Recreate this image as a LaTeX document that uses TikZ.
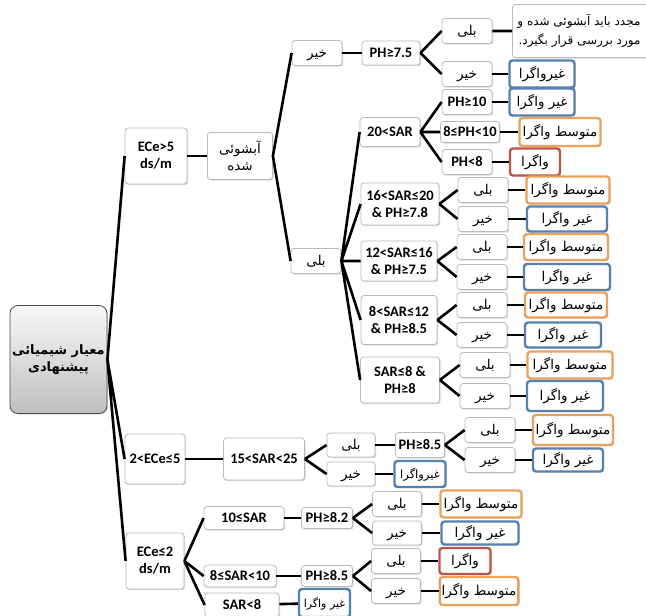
\documentclass[tikz,border=0pt]{standalone}
\usepackage{fontspec}
\setmainfont{Carlito}
\newfontfamily\arabicfont[Script=Arabic]{DejaVu Sans}
\TeXXeTstate=1
\newcommand{\fa}[1]{{\arabicfont\mdseries\fontsize{13.5}{18}\selectfont\beginR #1\endR}}
\newcommand{\fab}[1]{{\arabicfont\bfseries\fontsize{13}{22}\selectfont\beginR #1\endR}}
\usetikzlibrary{shadows}
\definecolor{nonc}{HTML}{5680AE}
\definecolor{medc}{HTML}{E9A15D}
\definecolor{sodc}{HTML}{BD5449}

\begin{document}
\begin{tikzpicture}[x=1pt,y=-1pt,
  box/.style={draw=gray!55,fill=white,rounded corners=3pt,line width=0.8pt,inner sep=2pt,align=center,
    font=\bfseries\fontsize{14.5}{17}\selectfont,
    drop shadow={shadow xshift=1.2pt,shadow yshift=-1.2pt,opacity=0.3}},
  fatxt/.style={text height=9pt,text depth=1pt},
  yn/.style={box,fatxt,minimum width=50,minimum height=25},
  nonbox/.style={box,fatxt,draw=nonc,line width=2.4pt},
  medbox/.style={box,fatxt,draw=medc,line width=2.4pt},
  sodbox/.style={box,fatxt,draw=sodc,line width=2.4pt},
  rootbox/.style={box,rounded corners=8pt,draw=gray!60!black,top color=gray!6,bottom color=gray!50,
    minimum width=97,minimum height=108},
  link/.style={line width=2.6pt}]
\useasboundingbox (0,0) rectangle (646,616);
\clip (0,0) rectangle (646,616);

\node at (58.5,359.5) [rootbox] (root) {\fab{معیار شیمیائی}\\\fab{پیشنهادی}};

\node at (156,156) [box,minimum width=62,minimum height=56] (ece5) {ECe>5\\ds/m};
\node at (240,156) [box,minimum width=65,minimum height=47] (wash) {\fa{آبشوئی}\\\fa{شده}};
\node at (317,53) [yn] (washno) {\fa{خیر}};
\node at (316,261) [yn] (washyes) {\fa{بلی}};
\node at (391,53) [box,minimum width=58,minimum height=24] (ph75) {PH≥7.5};
\node at (467,31) [yn] (ph75yes) {\fa{بلی}};
\node at (512,4) [box,anchor=north west,minimum width=148,minimum height=53] (again) {};
\node at (644,31) [anchor=east,align=right,font=\fontsize{12}{19}\selectfont] (againtxt)
  {{\arabicfont\beginR مجدد باید آبشوئی شده و\endR}\\{\arabicfont\beginR مورد بررسی قرار بگیرد.\endR}};
\node at (467,74) [yn] (ph75no) {\fa{خیر}};
\node at (542,74) [nonbox,minimum width=65,minimum height=27] (gv1) {\fa{غیرواگرا}};

\node at (390,132) [box,minimum width=60,minimum height=29] (sar20) {20<SAR};
\node at (467,102) [box,minimum width=50,minimum height=25] (ph10) {PH≥10};
\node at (542,102) [nonbox,minimum width=65,minimum height=27] (gv2) {\fa{غیر واگرا}};
\node at (470,132) [box,minimum width=59,minimum height=21] (ph810) {8≤PH<10};
\node at (560,132) [medbox,minimum width=81,minimum height=28] (mv1) {\fa{متوسط واگرا}};
\node at (467,162) [box,minimum width=50,minimum height=25] (ph8) {PH<8};
\node at (535,162) [sodbox,minimum width=50,minimum height=27] (v1) {\fa{واگرا}};

\node at (400,204) [box,minimum width=78,minimum height=42] (sar16) {16<SAR≤20\\\& PH≥7.8};
\node at (483,190) [yn] (y16) {\fa{بلی}};
\node at (568,190) [medbox,minimum width=83,minimum height=27] (mv16) {\fa{متوسط واگرا}};
\node at (483,219) [yn] (n16) {\fa{خیر}};
\node at (567,219) [nonbox,minimum width=80,minimum height=25] (gv16) {\fa{غیر واگرا}};

\node at (399,261) [box,minimum width=76,minimum height=40] (sar12) {12<SAR≤16\\\& PH≥7.5};
\node at (482,247) [yn] (y12) {\fa{بلی}};
\node at (566,247) [medbox,minimum width=84,minimum height=26] (mv12) {\fa{متوسط واگرا}};
\node at (482,277) [yn] (n12) {\fa{خیر}};
\node at (567,277) [nonbox,minimum width=86,minimum height=26] (gv12) {\fa{غیر واگرا}};

\node at (399,320) [box,minimum width=76,minimum height=49] (sar8) {8<SAR≤12\\\& PH≥8.5};
\node at (482,305) [yn] (y8) {\fa{بلی}};
\node at (566,305) [medbox,minimum width=82,minimum height=25] (mv8) {\fa{متوسط واگرا}};
\node at (482,335) [yn] (n8) {\fa{خیر}};
\node at (563,335) [nonbox,minimum width=76,minimum height=25] (gv8) {\fa{غیر واگرا}};

\node at (400,380) [box,minimum width=79,minimum height=46] (sarle8) {SAR≤8 \&\\PH≥8};
\node at (485,365) [yn] (yl8) {\fa{بلی}};
\node at (570,365) [medbox,minimum width=85,minimum height=27] (mvl8) {\fa{متوسط واگرا}};
\node at (485,396) [yn] (nl8) {\fa{خیر}};
\node at (565,396) [nonbox,minimum width=76,minimum height=30] (gvl8) {\fa{غیر واگرا}};

\node at (155,459) [box,minimum width=60,minimum height=50] (ece25) {2<ECe≤5};
\node at (264,459) [box,minimum width=81,minimum height=42] (sar15) {15<SAR<25};
\node at (351,445) [yn,minimum width=48,minimum height=24] (y15) {\fa{بلی}};
\node at (351,474) [yn,minimum width=48,minimum height=24] (n15) {\fa{خیر}};
\node at (420,445) [box,minimum width=49,minimum height=25] (ph85a) {PH≥8.5};
\node at (420,474) [nonbox,minimum width=51,minimum height=26,inner sep=1pt] (gv15) {\fa{\fontsize{11.5}{14}\selectfont غیرواگرا}};
\node at (490,430) [yn] (y85) {\fa{بلی}};
\node at (573,430) [medbox,minimum width=80,minimum height=30] (mv85) {\fa{متوسط واگرا}};
\node at (490,460) [yn] (n85) {\fa{خیر}};
\node at (568,460) [nonbox,minimum width=70,minimum height=23] (gv85) {\fa{غیر واگرا}};

\node at (155,561) [box,minimum width=58,minimum height=56] (ece2) {ECe≤2\\ds/m};
\node at (244,518) [box,minimum width=80,minimum height=23] (sar10) {10≤SAR};
\node at (327,518) [box,minimum width=51,minimum height=21] (ph82) {PH≥8.2};
\node at (397,504) [yn,minimum width=49] (y82) {\fa{بلی}};
\node at (481,504) [medbox,minimum width=81,minimum height=27] (mv82) {\fa{متوسط واگرا}};
\node at (397,533) [yn,minimum width=49,minimum height=24] (n82) {\fa{خیر}};
\node at (480,533) [nonbox,minimum width=77,minimum height=23] (gv82) {\fa{غیر واگرا}};
\node at (240,576) [box,minimum width=72,minimum height=22] (sar810) {8≤SAR<10};
\node at (327,576) [box,minimum width=51,minimum height=21] (ph85b) {PH≥8.5};
\node at (396,561) [yn,minimum width=49] (y85b) {\fa{بلی}};
\node at (465,561) [sodbox,minimum width=51,minimum height=26] (v85b) {\fa{واگرا}};
\node at (396,591) [yn,minimum width=49] (n85b) {\fa{خیر}};
\node at (479,591) [medbox,minimum width=78,minimum height=28] (mv85b) {\fa{متوسط واگرا}};
\node at (242,605) [box,minimum width=74,minimum height=24] (sarl8) {SAR<8};
\node at (324.5,603) [nonbox,minimum width=51,minimum height=28,inner sep=1pt] (gvl) {\fa{\fontsize{11}{14}\selectfont غیر واگرا}};

\draw[link] (root.east) -- (ece5.west) (root.east) -- (ece25.west) (root.east) -- (ece2.west);
\draw[link] (ece5) -- (wash);
\draw[link] (wash.east) -- (washno.west) (wash.east) -- (washyes.west);
\draw[link] (washno) -- (ph75);
\draw[link] (ph75.east) -- (ph75yes.west) (ph75.east) -- (ph75no.west);
\draw[link] (ph75yes) -- (again);
\draw[link] (ph75no) -- (gv1);
\draw[link] (washyes.east) -- (sar20.west) (washyes.east) -- (sar16.west) (washyes.east) -- (sar12.west)
  (washyes.east) -- (sar8.west) (washyes.east) -- (sarle8.west);
\draw[link] (sar20.east) -- (ph10.west) (sar20.east) -- (ph810.west) (sar20.east) -- (ph8.west);
\draw[link] (ph10) -- (gv2);
\draw[link] (ph810) -- (mv1);
\draw[link] (ph8) -- (v1);
\draw[link] (sar16.east) -- (y16.west) (sar16.east) -- (n16.west);
\draw[link] (y16) -- (mv16);
\draw[link] (n16) -- (gv16);
\draw[link] (sar12.east) -- (y12.west) (sar12.east) -- (n12.west);
\draw[link] (y12) -- (mv12);
\draw[link] (n12) -- (gv12);
\draw[link] (sar8.east) -- (y8.west) (sar8.east) -- (n8.west);
\draw[link] (y8) -- (mv8);
\draw[link] (n8) -- (gv8);
\draw[link] (sarle8.east) -- (yl8.west) (sarle8.east) -- (nl8.west);
\draw[link] (yl8) -- (mvl8);
\draw[link] (nl8) -- (gvl8);
\draw[link] (ece25) -- (sar15);
\draw[link] (sar15.east) -- (y15.west) (sar15.east) -- (n15.west);
\draw[link] (y15) -- (ph85a);
\draw[link] (n15) -- (gv15);
\draw[link] (ph85a.east) -- (y85.west) (ph85a.east) -- (n85.west);
\draw[link] (y85) -- (mv85);
\draw[link] (n85) -- (gv85);
\draw[link] (ece2.east) -- (sar10.west) (ece2.east) -- (sar810.west) (ece2.east) -- (sarl8.west);
\draw[link] (sar10) -- (ph82);
\draw[link] (ph82.east) -- (y82.west) (ph82.east) -- (n82.west);
\draw[link] (y82) -- (mv82);
\draw[link] (n82) -- (gv82);
\draw[link] (sar810) -- (ph85b);
\draw[link] (ph85b.east) -- (y85b.west) (ph85b.east) -- (n85b.west);
\draw[link] (y85b) -- (v85b);
\draw[link] (n85b) -- (mv85b);
\draw[link] (sarl8) -- (gvl);
\end{tikzpicture}
\end{document}
